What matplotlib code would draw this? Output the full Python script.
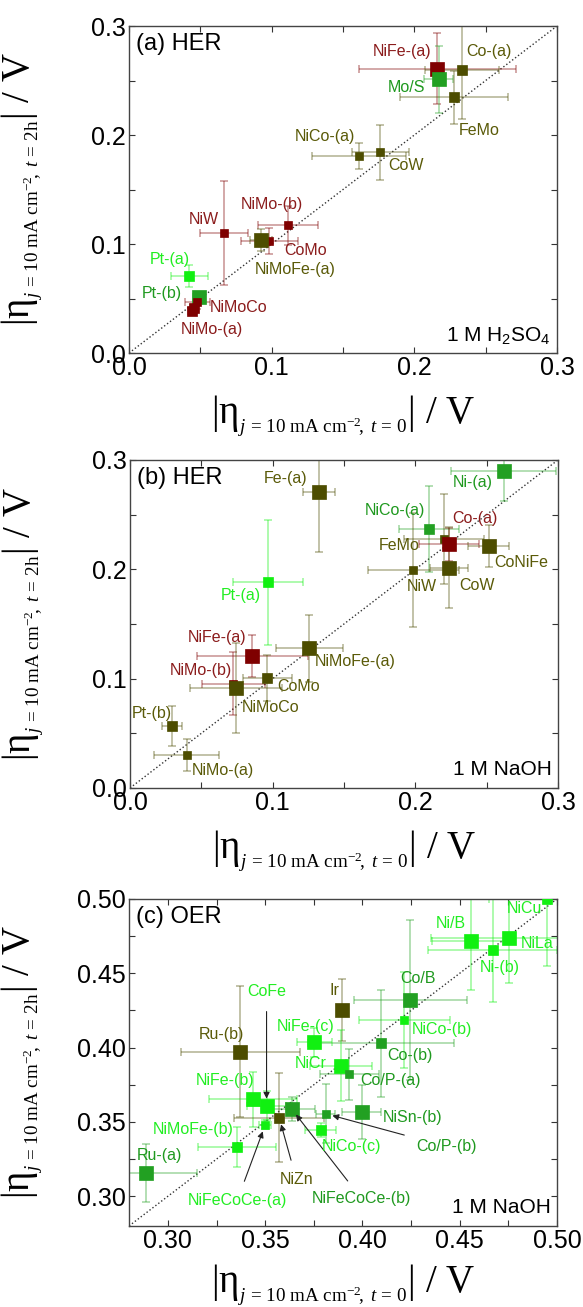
import matplotlib
matplotlib.use("Agg")
import matplotlib.pyplot as plt
import numpy as np

plt.rcParams["font.family"] = ["Liberation Sans", "DejaVu Sans"]
plt.rcParams["mathtext.fontset"] = "custom"
plt.rcParams["mathtext.rm"] = "Liberation Serif"
plt.rcParams["mathtext.it"] = "Liberation Serif:italic"
plt.rcParams["mathtext.sf"] = "Liberation Sans"

# ---- panel (a) HER, 1 M H2SO4 ----
A_NAMES = ["NiFe-(a)", "Mo/S", "Co-(a)", "FeMo", "NiCo-(a)", "CoW", "NiW", "NiMo-(b)", "CoMo",
           "NiMoFe-(a)", "Pt-(a)", "Pt-(b)", "NiMoCo", "", "NiMo-(a)"]
A_X = [0.216, 0.217, 0.2333, 0.228, 0.1615, 0.176, 0.0665, 0.1112, 0.0983,
       0.0925, 0.0421, 0.049, 0.048, 0.0456, 0.0440]
A_Y = [0.261, 0.251, 0.2596, 0.2345, 0.181, 0.184, 0.110, 0.117, 0.1026,
       0.104, 0.0704, 0.0514, 0.0468, 0.041, 0.0385]
A_XERR = [0.055, 0.010, 0.026, 0.038, 0.033, 0.020, 0.017, 0.021, 0.020,
          0.008, 0.013, 0.004, 0.009, 0.003, 0.003]
A_YERR = [0.033, 0.031, 0.045, 0.024, 0.012, 0.025, 0.048, 0.018, 0.012,
          0.010, 0.010, 0.004, 0.006, 0.003, 0.003]
A_GRP = ["red", "green", "olive", "olive", "olive", "olive", "red", "red", "red",
         "olive", "lime", "green", "red", "red", "red"]
A_SIZE = ["L", "L", "M", "M", "S", "S", "S", "S", "S", "L", "M", "L", "S", "M", "M"]
A_LX = [0.1912, 0.1942, 0.252, 0.2457, 0.1374, 0.1942, 0.0527, 0.0999, 0.1238,
        0.1168, 0.0285, 0.0232, 0.077, 0.0, 0.0583]
A_LY = [0.2764, 0.2437, 0.2764, 0.2045, 0.199, 0.1717, 0.1228, 0.1365, 0.0943,
        0.0765, 0.0857, 0.0545, 0.0422, 0.0, 0.0217]

# ---- panel (b) HER, 1 M NaOH ----
B_NAMES = ["Fe-(a)", "Ni-(a)", "NiCo-(a)", "FeMo", "Co-(a)", "CoNiFe", "CoW", "NiW", "Pt-(a)",
           "NiFe-(a)", "NiMoFe-(a)", "NiMo-(b)", "NiMoCo", "CoMo", "Pt-(b)", "NiMo-(a)"]
B_X = [0.1326, 0.2619, 0.2097, 0.2198, 0.2233, 0.2514, 0.2238, 0.1987, 0.0966,
       0.0858, 0.1258, 0.0725, 0.0744, 0.0963, 0.0292, 0.0397]
B_Y = [0.2704, 0.2902, 0.2368, 0.2276, 0.2228, 0.2212, 0.2014, 0.1993, 0.188,
       0.1205, 0.1276, 0.0955, 0.0915, 0.101, 0.0568, 0.0299]
B_XERR = [0.011, 0.037, 0.021, 0.028, 0.021, 0.0146, 0.0134, 0.032, 0.0245,
          0.039, 0.0234, 0.022, 0.032, 0.017, 0.007, 0.0227]
B_YERR = [0.055, 0.028, 0.039, 0.041, 0.015, 0.0195, 0.037, 0.052, 0.057,
          0.019, 0.031, 0.029, 0.041, 0.021, 0.018, 0.0147]
B_GRP = ["olive", "green", "green", "olive", "red", "olive", "olive", "olive", "lime",
         "red", "olive", "red", "olive", "olive", "olive", "olive"]
B_SIZE = ["L", "L", "M", "S", "L", "L", "L", "S", "M", "L", "L", "S", "L", "M", "M", "S"]
B_LX = [0.1092, 0.2404, 0.1854, 0.1889, 0.2415, 0.274, 0.2432, 0.2046, 0.0776,
        0.0608, 0.1578, 0.0496, 0.0987, 0.1181, 0.0152, 0.065]
B_LY = [0.2832, 0.2795, 0.2542, 0.2222, 0.246, 0.206, 0.1849, 0.184, 0.1764,
        0.1376, 0.1154, 0.1071, 0.0732, 0.0931, 0.0681, 0.0156]

# ---- panel (c) OER, 1 M NaOH ----
C_NAMES = ["Ru-(a)", "Ru-(b)", "Ir", "Co/B", "NiCo-(b)", "Co-(b)", "NiFe-(c)", "NiCr", "Co/P-(a)",
           "NiFe-(b)", "CoFe", "NiFeCoCe-(b)", "NiFeCoCe-(a)", "NiZn", "NiMoFe-(b)", "NiCo-(c)",
           "Co/P-(b)", "NiSn-(b)", "Ni/B", "NiLa", "Ni-(b)", "NiCu"]
C_X = [0.2889, 0.3373, 0.3897, 0.4245, 0.4216, 0.4096, 0.3751, 0.389, 0.3933,
       0.3438, 0.3507, 0.3636, 0.350, 0.3572, 0.3353, 0.3785,
       0.3811, 0.3996, 0.4557, 0.4751, 0.4669, 0.4949]
C_Y = [0.3154, 0.3973, 0.4253, 0.432, 0.4186, 0.4029, 0.4035, 0.3878, 0.382,
       0.3654, 0.361, 0.3587, 0.348, 0.3529, 0.3334, 0.3446,
       0.3555, 0.3568, 0.4717, 0.4735, 0.4656, 0.4997]
C_XERR = [0.026, 0.0305, 0.003, 0.029, 0.0236, 0.0375, 0.009, 0.016, 0.015,
          0.0225, 0.010, 0.012, 0.003, 0.023, 0.020, 0.008,
          0.005, 0.010, 0.020, 0.040, 0.033, 0.030]
C_YERR = [0.0195, 0.044, 0.021, 0.054, 0.032, 0.036, 0.010, 0.024, 0.017,
          0.0185, 0.010, 0.008, 0.003, 0.030, 0.0135, 0.005,
          0.020, 0.018, 0.033, 0.030, 0.035, 0.045]
C_GRP = ["green", "olive", "olive", "green", "lime", "green", "lime", "lime", "green",
         "lime", "lime", "green", "lime", "olive", "lime", "lime",
         "green", "green", "lime", "lime", "lime", "lime"]
C_SIZE = ["L", "L", "L", "L", "S", "M", "L", "L", "S", "L", "L", "L", "S", "M", "M", "M",
          "S", "L", "L", "L", "M", "M"]
C_LX = [0.2954, 0.3275, 0.3855, 0.4288, 0.4408, 0.4245, 0.3708, 0.3734, 0.4142,
        0.3292, 0.3507, 0.3996, 0.3356, 0.3661, 0.3129, 0.3945,
        0.4433, 0.4259, 0.4454, 0.490, 0.4708, 0.4832]
C_LY = [0.3271, 0.4085, 0.4381, 0.4462, 0.4125, 0.3946, 0.4141, 0.3894, 0.3778,
        0.3782, 0.4377, 0.2982, 0.297, 0.311, 0.345, 0.3334,
        0.3334, 0.3531, 0.4832, 0.4702, 0.454, 0.4937]
C_ARROWS = ["CoFe", "NiFeCoCe-(a)", "NiZn", "NiFeCoCe-(b)", "Co/P-(b)"]

MARK = {"red": "#7f0000", "olive": "#4d4d00", "green": "#22a022", "lime": "#11f011"}
TEXT = {"red": "#8b1c1c", "olive": "#5a5a08", "green": "#1f991f", "lime": "#22ee22"}
MS = {"L": 9.6, "M": 7.0, "S": 5.2}

fig = plt.figure(figsize=(5.83, 13.07), dpi=100)
boxes = [[0.2213, 0.7299, 0.7341, 0.2502],
         [0.2230, 0.3971, 0.7341, 0.2510],
         [0.2213, 0.0620, 0.7341, 0.2502]]
xlab_y = [-0.125, -0.125, -0.113]

panels = [
    (A_NAMES, A_X, A_Y, A_XERR, A_YERR, A_GRP, A_SIZE, A_LX, A_LY, "(a) HER",
     r"1 M H$_\mathsf{2}$SO$_\mathsf{4}$", (0, 0.3), 0.0, 0.1, 0.05, "%.1f", []),
    (B_NAMES, B_X, B_Y, B_XERR, B_YERR, B_GRP, B_SIZE, B_LX, B_LY, "(b) HER",
     "1 M NaOH", (0, 0.3), 0.0, 0.1, 0.05, "%.1f", []),
    (C_NAMES, C_X, C_Y, C_XERR, C_YERR, C_GRP, C_SIZE, C_LX, C_LY, "(c) OER",
     "1 M NaOH", (0.28, 0.5), 0.30, 0.05, 0.025, "%.2f", C_ARROWS),
]

xlab = "|η" + r"$_{{}_{j\,=\,10\ \mathrm{mA\ cm}^{-2}\!,\ t\,=\,0}}$" + "| / V"
ylab = "|η" + r"$_{{}_{j\,=\,10\ \mathrm{mA\ cm}^{-2}\!,\ t\,=\,2\mathrm{h}}}$" + "| / V"

for box, lab_y, p in zip(boxes, xlab_y, panels):
    names, xs, ys, xe, ye, grp, size, lx, ly, title, elec, lim, t0, major, minor, fmt, arrows = p
    ax = fig.add_axes(box)
    ax.set_xlim(*lim)
    ax.set_ylim(*lim)
    ax.plot(lim, lim, ":", color="#333333", lw=1.0, zorder=1)

    for i in range(len(xs)):
        c = MARK[grp[i]]
        ax.errorbar(xs[i], ys[i], xerr=xe[i], yerr=ye[i], fmt="none", ecolor=c,
                    alpha=0.4, elinewidth=1.2, capsize=3, capthick=1.2, zorder=2)
    for i in range(len(xs)):
        c = MARK[grp[i]]
        ax.plot(xs[i], ys[i], "s", color=c, ms=MS[size[i]], mec=c, mew=0.5, zorder=3)

    for i in range(len(xs)):
        if not names[i]:
            continue
        if names[i] in arrows:
            ax.annotate(names[i], xy=(xs[i], ys[i]), xytext=(lx[i], ly[i]),
                        ha="center", va="center", fontsize=11.5, color=TEXT[grp[i]],
                        arrowprops=dict(arrowstyle="-|>", color="#222222", lw=0.8,
                                        mutation_scale=9, shrinkA=7, shrinkB=5), zorder=4)
        else:
            ax.text(lx[i], ly[i], names[i], ha="center", va="center", fontsize=11.5,
                    color=TEXT[grp[i]], zorder=4)

    ax.text(0.017, 0.945, title, transform=ax.transAxes, fontsize=17, ha="left", va="center")
    ax.text(0.985, 0.055, elec, transform=ax.transAxes, fontsize=15, ha="right", va="center")

    ticks = np.arange(t0, lim[1] + 1e-9, major)
    ax.set_xticks(ticks)
    ax.set_yticks(ticks)
    ax.xaxis.set_minor_locator(plt.MultipleLocator(minor))
    ax.yaxis.set_minor_locator(plt.MultipleLocator(minor))
    ax.xaxis.set_major_formatter(plt.FormatStrFormatter(fmt))
    ax.yaxis.set_major_formatter(plt.FormatStrFormatter(fmt))
    ax.tick_params(which="both", direction="in", top=True, right=True, length=4,
                   width=0.8, labelsize=18, pad=2, color="#333333")
    for s in ax.spines.values():
        s.set_linewidth(1.0)
        s.set_color("#444444")

    ax.set_xlabel(xlab, fontsize=28, family="Liberation Serif")
    ax.set_ylabel(ylab, fontsize=28, family="Liberation Serif")
    ax.xaxis.set_label_coords(0.5, lab_y)
    ax.yaxis.set_label_coords(-0.196, 0.5)

fig.savefig("out.png", dpi=100)
